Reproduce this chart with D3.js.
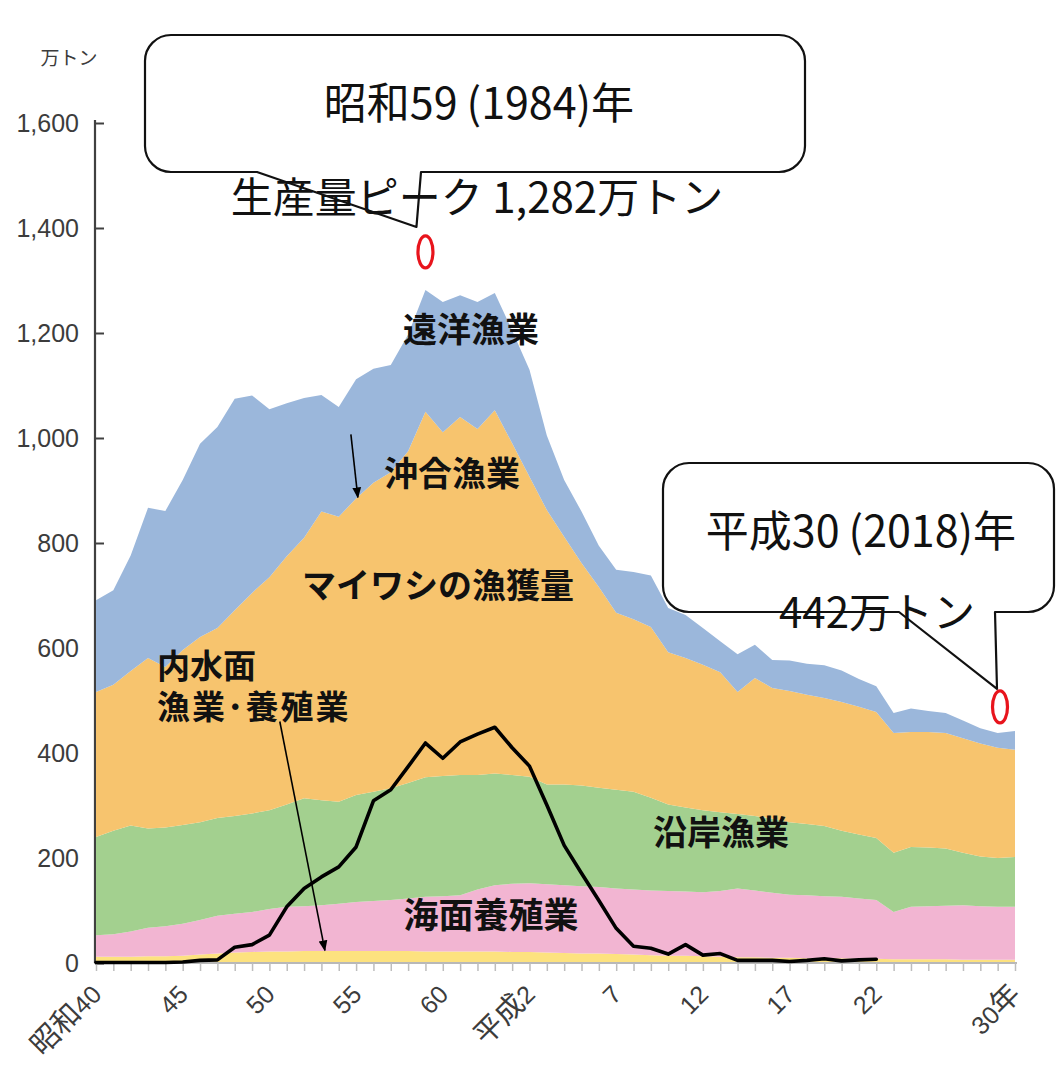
<!DOCTYPE html>
<html>
<head>
<meta charset="utf-8">
<script src="https://cdn.jsdelivr.net/npm/d3@7"></script>
<style>
  html, body { margin: 0; padding: 0; background: #fff; }
  svg { display: block; }
</style>
</head>
<body>
<svg id="chart" width="1056" height="1067"></svg>
<script>
// Japanese fisheries & aquaculture production by sector, 1965 (昭和40) – 2018 (平成30), in 万トン
const years = d3.range(1965, 2019);

// 内水面漁業・養殖業
const inland = [12,12,12,13,13,14,16,18,20,21, 22,22,23,23,23,23,23,23,23,22,
                22,22,22,22,21,21,20,19,18,18, 17,16,15,14,14,13,12,11,11,10,
                10,9,9,9,8,8,7,7,7,7, 6,6,6,6];
// 海面養殖業
const mariculture = [41,43,48,54,57,61,66,72,74,76, 81,85,85,87,90,93,95,97,100,104,
                     105,107,118,126,130,131,130,129,128,127, 125,124,123,123,122,122,125,131,127,124,
                     120,120,118,117,115,112,90,100,101,102, 104,102,101,101];
// 沿岸漁業
const coastal = [187,197,202,189,188,188,186,186,186,188, 188,195,206,200,194,204,208,213,220,228,
                 229,229,218,213,207,203,190,192,192,189, 188,186,177,165,160,156,150,142,142,141,
                 138,136,134,126,122,118,113,114,112,109, 100,95,93,95];
// 沖合漁業
const offshore = [276,278,294,325,306,333,353,362,392,420, 444,473,496,550,543,565,589,602,632,696,
                  655,682,659,692,632,571,523,472,424,382, 337,329,325,290,285,277,267,232,263,249,
                  250,246,244,245,243,240,228,219,220,220, 218,215,210,204];
// 遠洋漁業
const distant = [175,180,220,286,297,324,368,383,403,376, 320,291,266,222,209,227,217,204,222,232,
                 248,232,242,223,215,204,142,108,98,79, 82,90,98,84,82,70,59,72,63,53,
                 58,59,62,60,53,49,38,45,40,38, 34,29,28,36];

// マイワシの漁獲量 (1965–2010)
const sardineYears = d3.range(1965, 2011);
const sardine = [1,1,1,1,1,2,5,6,30,35, 53,107,142,164,183,221,309,330,374,419,
                 390,421,436,449,410,375,301,224,171,119, 66,32,28,17,35,15,18,5,5,5,
                 3,5,8,4,6,7];

const seriesKeys   = ["inland", "mariculture", "coastal", "offshore", "distant"];
const seriesColors = ["#fde27f", "#f2b5d2", "#a3d08f", "#f7c46e", "#9bb7db"];

const xTickYears  = [1965, 1970, 1975, 1980, 1985, 1990, 1995, 2000, 2005, 2010, 2018];
const xTickLabels = ["昭和40", "45", "50", "55", "60", "平成2", "7", "12", "17", "22", "30年"];
const yTickValues = [0, 200, 400, 600, 800, 1000, 1200, 1400, 1600];

// callout annotations
const peakYear = 1984, peakValue = 1282;
const lastYear = 2018, lastValue = 442;

const svg = d3.select("#chart");
const x = d3.scaleLinear().domain([1965, 2018]).range([96, 1015]);
const y = d3.scaleLinear().domain([0, 1600]).range([963, 123]);

const numFont = "'Liberation Sans', Arial, 'DejaVu Sans', sans-serif";
const jpFont  = "'Noto Sans CJK JP', 'Noto Sans CJK SC', sans-serif";

// split a label into runs of ASCII and CJK characters
function runs(str) {
  const out = [];
  for (const ch of str) {
    const cjk = /[^\x00-\x7f]/.test(ch);
    if (out.length && out[out.length - 1].cjk === cjk) out[out.length - 1].t += ch;
    else out.push({ t: ch, cjk });
  }
  return out;
}

// ---- y axis (inner ticks, covered by the areas) ----
const yAxis = d3.axisLeft(y)
  .tickValues(yTickValues)
  .tickFormat(d3.format(","))
  .tickSizeInner(-9)
  .tickSizeOuter(0)
  .tickPadding(16);
const yg = svg.append("g").attr("transform", "translate(95,0)").call(yAxis);
yg.select(".domain").attr("stroke", "#404040").attr("stroke-width", 2.2)
  .attr("d", `M0,${y(1600) - 3}V${y(0)}`);
yg.selectAll(".tick line").attr("stroke", "#404040").attr("stroke-width", 2);
yg.selectAll(".tick text")
  .attr("fill", "#3c3c3c")
  .style("font-family", numFont)
  .style("font-size", "25px");

svg.append("text")
  .attr("x", 69).attr("y", 56)
  .attr("text-anchor", "middle")
  .attr("dominant-baseline", "central")
  .attr("fill", "#3c3c3c")
  .style("font-family", jpFont)
  .style("font-size", "19px")
  .text("万トン");

// ---- stacked areas ----
const rows = years.map((yr, i) => ({
  year: yr,
  inland: inland[i],
  mariculture: mariculture[i],
  coastal: coastal[i],
  offshore: offshore[i],
  distant: distant[i]
}));
const stacked = d3.stack().keys(seriesKeys)(rows);
const area = d3.area()
  .x(d => x(d.data.year))
  .y0(d => y(d[0]))
  .y1(d => y(d[1]));

svg.append("g").selectAll("path")
  .data(stacked)
  .join("path")
  .attr("d", area)
  .attr("fill", (d, i) => seriesColors[i]);

// ---- x axis ----
const xAxis = d3.axisBottom(x)
  .tickValues(years)
  .tickFormat("")
  .tickSizeInner(8)
  .tickSizeOuter(0);
const xg = svg.append("g").attr("transform", `translate(0,${y(0)})`).call(xAxis);
xg.select(".domain").attr("stroke", "#b8b8b8").attr("stroke-width", 2)
  .attr("d", `M${x(1965) - 1},0H${x(2018) + 2}`);
xg.selectAll(".tick line").attr("stroke", "#bdbdbd").attr("stroke-width", 1.5);

const xl = svg.append("g").selectAll("text")
  .data(xTickYears)
  .join("text")
  .attr("transform", d => `translate(${x(d) + 7},${y(0) + 33}) rotate(-45)`)
  .attr("text-anchor", "end")
  .attr("fill", "#3c3c3c");
xl.each(function (d, i) {
  d3.select(this).selectAll("tspan")
    .data(runs(xTickLabels[i]))
    .join("tspan")
    .style("font-family", r => r.cjk ? jpFont : numFont)
    .style("font-size", r => r.cjk ? "29px" : "25px")
    .text(r => r.t);
});

// ---- sardine catch line ----
const line = d3.line()
  .x((d, i) => x(sardineYears[i]))
  .y(d => y(d));
svg.append("path")
  .datum(sardine)
  .attr("d", line)
  .attr("fill", "none")
  .attr("stroke", "#000")
  .attr("stroke-width", 3.6)
  .attr("stroke-linejoin", "round")
  .attr("stroke-linecap", "round");

// ---- series labels (one text per label, multi-line labels as tspans) ----
const labels = [
  { lines: ["遠洋漁業"], cx: 471, cy: 327, size: 34, anchor: "middle" },
  { lines: ["沖合漁業"], cx: 452, cy: 471, size: 34, anchor: "middle" },
  { lines: ["マイワシの漁獲量"], cx: 438, cy: 583, size: 34, anchor: "middle" },
  { lines: ["内水面", "漁業･養殖業"], cx: 157, cy: 664, size: 33, anchor: "start", lh: 41 },
  { lines: ["沿岸漁業"], cx: 721, cy: 830, size: 34, anchor: "middle" },
  { lines: ["海面養殖業"], cx: 491, cy: 912, size: 35, anchor: "middle" }
];
const lt = svg.append("g").selectAll("text")
  .data(labels)
  .join("text")
  .attr("text-anchor", d => d.anchor)
  .attr("dominant-baseline", "central")
  .attr("fill", "#111")
  .style("font-family", jpFont)
  .style("font-weight", 700)
  .style("font-size", d => d.size + "px");
lt.each(function (d) {
  d3.select(this).selectAll("tspan")
    .data(d.lines)
    .join("tspan")
    .attr("x", d.cx)
    .attr("y", (t, i) => d.cy + i * (d.lh || 0))
    .style("letter-spacing", t => t.includes("･") ? "2px" : "0px")
    .text(t => t);
});

// ---- pointer arrows ----
const defs = svg.append("defs");
defs.append("marker")
  .attr("id", "arrowhead")
  .attr("viewBox", "0 0 10 10")
  .attr("refX", 9).attr("refY", 5)
  .attr("markerWidth", 11).attr("markerHeight", 11)
  .attr("markerUnits", "userSpaceOnUse")
  .attr("orient", "auto")
  .append("path")
  .attr("d", "M0,1L10,5L0,9Z")
  .attr("fill", "#000");

const arrows = [
  { from: [x(1979.7), y(1007)], to: [x(1980.1), y(887)] },
  { from: [x(1975.6), y(460)], to: [x(1978.2), y(24)] }
];
svg.append("g").selectAll("line")
  .data(arrows)
  .join("line")
  .attr("x1", d => d.from[0]).attr("y1", d => d.from[1])
  .attr("x2", d => d.to[0]).attr("y2", d => d.to[1])
  .attr("stroke", "#000")
  .attr("stroke-width", 1.6)
  .attr("marker-end", "url(#arrowhead)");

// ---- callouts ----
function calloutPath(b) {
  const r = b.r;
  return [
    `M${b.x0 + r},${b.y0}`,
    `H${b.x1 - r}`,
    `A${r},${r} 0 0 1 ${b.x1},${b.y0 + r}`,
    `V${b.y1 - r}`,
    `A${r},${r} 0 0 1 ${b.x1 - r},${b.y1}`,
    `H${b.tailRight}`,
    `L${b.tip[0]},${b.tip[1]}`,
    `L${b.tailLeft},${b.y1}`,
    `H${b.x0 + r}`,
    `A${r},${r} 0 0 1 ${b.x0},${b.y1 - r}`,
    `V${b.y0 + r}`,
    `A${r},${r} 0 0 1 ${b.x0 + r},${b.y0}`,
    "Z"
  ].join("");
}

const callouts = [
  {
    x0: 145, y0: 35, x1: 805, y1: 172, r: 26,
    tailLeft: 257, tailRight: 421,
    tip: [x(peakYear) - 9, y(peakValue) - 63],
    ring: [x(peakYear), y(peakValue) - 38],
    line1: ["昭和59", "(1984)年"], l1x: 479, l1y: 100,
    line2: `生産量ピーク ${d3.format(",")(peakValue)}万トン`, l2x: 477, l2y: 194
  },
  {
    x0: 663, y0: 463, x1: 1054, y1: 612, r: 26,
    tailLeft: 899, tailRight: 995,
    tip: [x(lastYear) - 18, y(lastValue) - 42],
    ring: [x(lastYear) - 15, y(lastValue) - 24],
    line1: ["平成30", "(2018)年"], l1x: 861, l1y: 528,
    line2: `${lastValue}万トン`, l2x: 877, l2y: 609
  }
];

const cg = svg.append("g");
cg.selectAll("path.box")
  .data(callouts)
  .join("path")
  .attr("class", "box")
  .attr("d", calloutPath)
  .attr("fill", "#fff")
  .attr("stroke", "#111")
  .attr("stroke-width", 2.2)
  .attr("stroke-linejoin", "round");

cg.selectAll("ellipse")
  .data(callouts)
  .join("ellipse")
  .attr("cx", d => d.ring[0])
  .attr("cy", d => d.ring[1])
  .attr("rx", 7.5)
  .attr("ry", 16)
  .attr("fill", "none")
  .attr("stroke", "#e8141c")
  .attr("stroke-width", 3.2);

const l1 = cg.selectAll("text.l1")
  .data(callouts)
  .join("text")
  .attr("class", "l1")
  .attr("x", d => d.l1x)
  .attr("y", d => d.l1y)
  .attr("text-anchor", "middle")
  .attr("dominant-baseline", "central")
  .attr("fill", "#111")
  .style("font-family", jpFont)
  .style("font-size", "43px");
l1.append("tspan").text(d => d.line1[0]);
l1.append("tspan").attr("dx", 9).text(d => d.line1[1]);

cg.selectAll("text.l2")
  .data(callouts)
  .join("text")
  .attr("class", "l2")
  .attr("x", d => d.l2x)
  .attr("y", d => d.l2y)
  .attr("text-anchor", "middle")
  .attr("dominant-baseline", "central")
  .attr("fill", "#111")
  .style("font-family", jpFont)
  .style("font-size", "42px")
  .text(d => d.line2);
</script>
</body>
</html>
